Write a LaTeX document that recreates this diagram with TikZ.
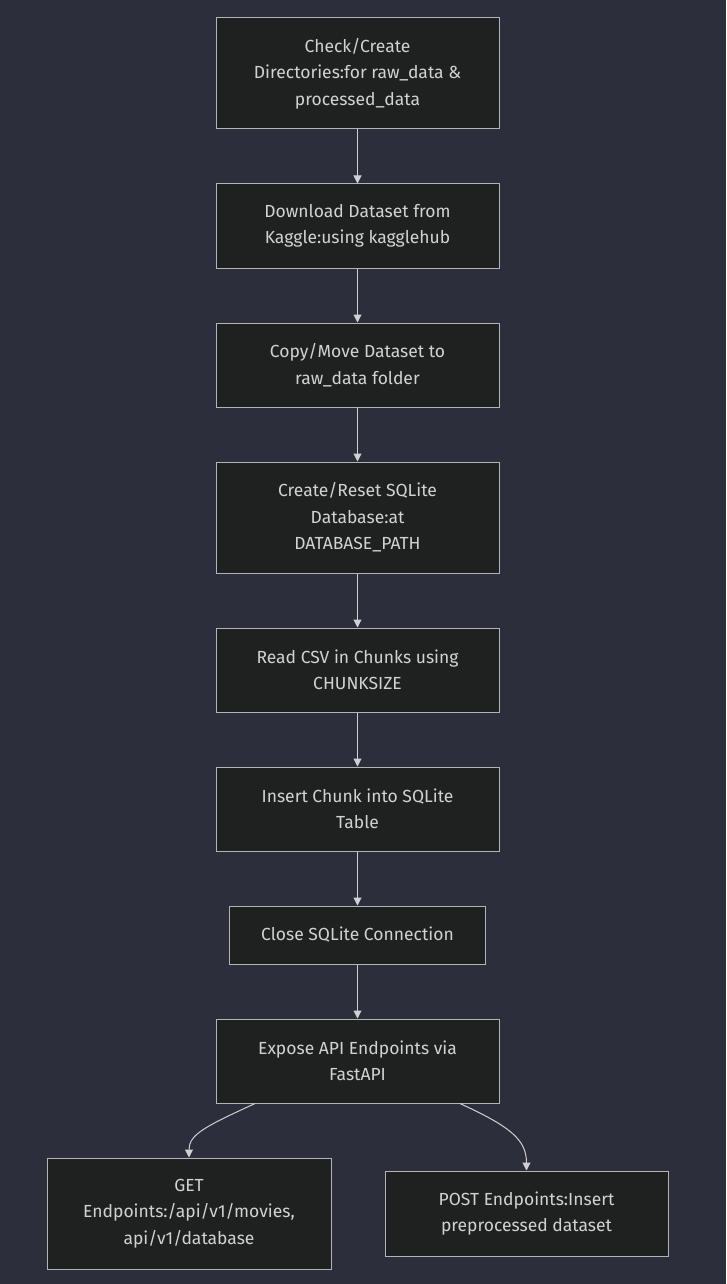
\documentclass[tikz,border=0pt]{standalone}
\usepackage{fontspec}
\setmainfont{Fira Sans}
\usepackage{tikz}
\usetikzlibrary{arrows.meta, positioning}

\definecolor{bgcol}{HTML}{2C2F3B}
\definecolor{boxfill}{HTML}{1F2020}
\definecolor{boxline}{HTML}{B4B4B4}
\definecolor{txtcol}{HTML}{D2D2D2}
\definecolor{linecol}{HTML}{D0D0D0}

\begin{document}
\begin{tikzpicture}[
  x=1pt, y=-1pt,
  task/.style={draw=boxline, line width=1pt, fill=boxfill, text=txtcol, align=center,
    minimum width=283pt, minimum height=84pt, inner sep=0pt,
    font=\fontsize{17.5}{26.5}\selectfont},
  arr/.style={draw=linecol, line width=1pt, -{Triangle[length=8pt,width=8pt]}}
]
\fill[bgcol] (0,0) rectangle (726,1284);
\useasboundingbox (0,0) rectangle (726,1284);

\node[task, minimum height=111pt] (check) at (357.5,73.5) {Check/Create\\Directories:for raw\_data \&\\processed\_data};
\node[task] (download) at (357.5,226) {Download Dataset from\\Kaggle:using kagglehub};
\node[task] (copy) at (357.5,365) {Copy/Move Dataset to\\raw\_data folder};
\node[task, minimum height=111pt] (dbreset) at (357.5,517.5) {Create/Reset SQLite\\Database:at\\DATABASE\_PATH};
\node[task] (readcsv) at (357.5,670) {Read CSV in Chunks using\\CHUNKSIZE};
\node[task] (insert) at (357.5,809) {Insert Chunk into SQLite\\Table};
\node[task, minimum width=256pt, minimum height=58pt] (close) at (357.5,935) {Close SQLite Connection};
\node[task] (expose) at (357.5,1061) {Expose API Endpoints via\\FastAPI};
\node[task, minimum width=284pt, minimum height=111pt] (getep) at (189,1213.5) {GET\\Endpoints:/api/v1/movies,\\api/v1/database};
\node[task, minimum height=85pt] (postep) at (526.5,1213.5) {POST Endpoints:Insert\\preprocessed dataset};

\draw[arr] (check) -- (download);
\draw[arr] (download) -- (copy);
\draw[arr] (copy) -- (dbreset);
\draw[arr] (dbreset) -- (readcsv);
\draw[arr] (readcsv) -- (insert);
\draw[arr] (insert) -- (close);
\draw[arr] (close) -- (expose);
\draw[arr] ([xshift=-102.5pt]expose.south) .. controls +(-50,23) and +(0,-23) .. (getep.north);
\draw[arr] ([xshift=102.5pt]expose.south) .. controls +(50,23) and +(0,-31) .. (postep.north);

\end{tikzpicture}
\end{document}
